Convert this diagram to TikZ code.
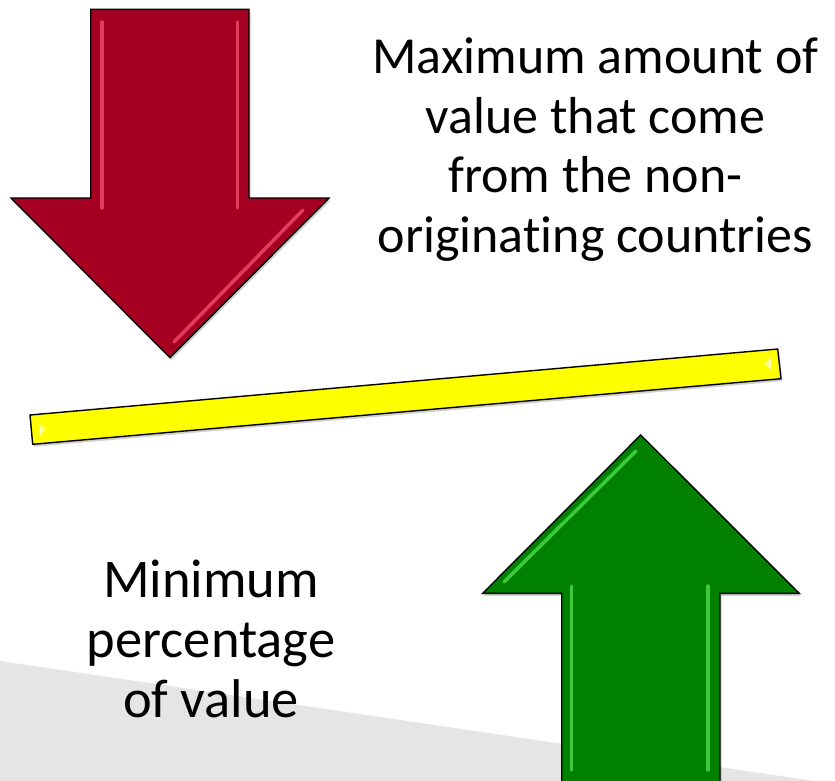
\documentclass[tikz,border=0pt]{standalone}
\usepackage{fontspec}
\setmainfont{Carlito}[Ligatures=NoCommon]
\definecolor{arrred}{RGB}{165,0,33}
\definecolor{redhi}{RGB}{238,70,100}
\definecolor{arrgreen}{RGB}{0,128,0}
\definecolor{greenhi}{RGB}{70,215,70}
\definecolor{baryellow}{RGB}{255,255,0}
\definecolor{yellowhi}{RGB}{255,255,200}
\definecolor{bggray}{RGB}{229,229,229}
\begin{document}
\begin{tikzpicture}[x=1pt,y=-1pt,
  outline/.style={draw=black,line width=1.4pt,line join=miter},
  hilite/.style={line width=3.5pt,line cap=round,opacity=0.85},
  softshadow/.style={fill=black,opacity=0.18},
  lblup/.style={anchor=base,inner sep=0pt,font=\fontsize{52}{60}\selectfont},
  lbldown/.style={anchor=base,inner sep=0pt,font=\fontsize{54.5}{60}\selectfont}]
\useasboundingbox (0,0) rectangle (835,780);
\clip (0,0) rectangle (835,780);
% background band
\fill[bggray] (0,661) -- (835,784) -- (835,800) -- (0,800) -- cycle;
% red arrow
\fill[softshadow,shift={(1.5,2.5)}] (90.7,9.3) -- (249,9.3) -- (249,198) -- (329,198) -- (170,357.7) -- (11,198) -- (90.7,198) -- cycle;
\filldraw[outline,fill=arrred] (90.7,9.3) -- (249,9.3) -- (249,198) -- (329,198) -- (170,357.7) -- (11,198) -- (90.7,198) -- cycle;
\draw[hilite,redhi] (102,22) -- (102,208);
\draw[hilite,redhi] (237.5,22) -- (237.5,208);
\draw[hilite,redhi] (303,210) -- (174,342);
% yellow bar
\fill[softshadow,shift={(1.5,2.5)}] (30,415) -- (777.7,349) -- (781,378.7) -- (32.7,444.3) -- cycle;
\filldraw[outline,fill=baryellow] (30,415) -- (777.7,349) -- (781,378.7) -- (32.7,444.3) -- cycle;
\fill[yellowhi,opacity=0.8] (39,423) -- (45,429) -- (40,436) -- cycle;
\fill[yellowhi,opacity=0.8] (771,357) -- (765,364) -- (771,370) -- cycle;
% green arrow
\fill[softshadow,shift={(1.5,2.5)}] (640.7,435) -- (799.3,593.3) -- (720,593.3) -- (720,800) -- (561.7,800) -- (561.7,593.3) -- (482.7,593.3) -- cycle;
\filldraw[outline,fill=arrgreen] (640.7,435) -- (799.3,593.3) -- (720,593.3) -- (720,800) -- (561.7,800) -- (561.7,593.3) -- (482.7,593.3) -- cycle;
\draw[hilite,greenhi] (571.5,586) -- (571.5,770);
\draw[hilite,greenhi] (708,586) -- (708,770);
\draw[hilite,greenhi] (504,582) -- (636,451);
% texts
\node[lblup] (u1) at (595.5,73.5) {Maximum amount of};
\node[lblup] (u2) at (595.5,133) {value that come};
\node[lblup] (u3) at (595.5,192.5) {from the non-};
\node[lblup] (u4) at (595.5,252) {originating countries};
\node[lbldown] (d1) at (211,597.5) {Minimum};
\node[lbldown] (d2) at (211,657.5) {percentage};
\node[lbldown] (d3) at (211,717.5) {of value};
\end{tikzpicture}
\end{document}
